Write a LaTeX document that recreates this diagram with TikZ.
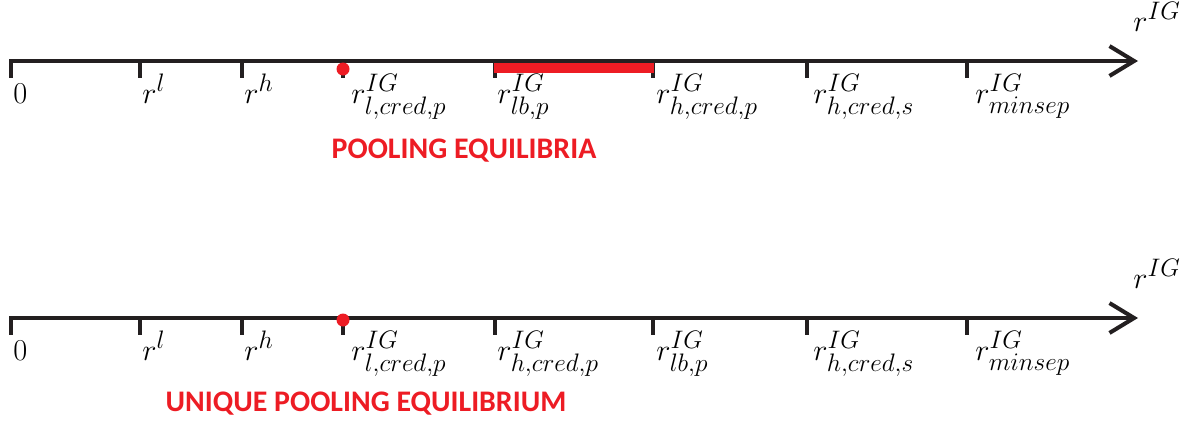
\documentclass[tikz,border=0pt]{standalone}
\usepackage{amsmath}
\usepackage{fontspec}
\setsansfont{Carlito}
\usetikzlibrary{arrows.meta, positioning}
\definecolor{eqred}{RGB}{237,28,36}
\definecolor{axisgray}{RGB}{35,31,32}

\begin{document}
\begin{tikzpicture}[x=0.02cm, y=-0.02cm,
    axis/.style={line width=2.3pt, axisgray, -{Straight Barb[length=14pt,width=17pt]}},
    tickmark/.style={line width=2.3pt, axisgray},
    lbl/.style={anchor=base west, inner sep=0pt, font=\fontsize{19}{22}\selectfont},
    note/.style={inner sep=0pt, text=eqred, font=\sffamily\bfseries\fontsize{17}{20}\selectfont}]
\useasboundingbox (0,0) rectangle (1180,420);

            % Top line: range of pooling equilibria

            \coordinate (ta) at (9,61);
            \coordinate (tb) at (1138,61);
            \draw[axis] (ta) -- (tb);
            \node[lbl] (tvar) at (1133,31) {$r^{IG}$};
            \foreach \x/\lx/\txt [count=\i] in {11/13/{$0$}, 140/142/{$r^{l}$}, 242/244/{$r^{h}$},
                343/351/{$r^{IG}_{l,cred,p}$}, 495/497/{$r^{IG}_{lb,p}$}, 653/656/{$r^{IG}_{h,cred,p}$},
                807/813/{$r^{IG}_{h,cred,s}$}, 967/975/{$r^{IG}_{minsep}$}} {
              \draw[tickmark] (\x,61) -- (\x,78);
              \node[lbl] (top\i) at (\lx,103) {\txt};
            }
            \coordinate (ra) at (494,68);
            \coordinate (rb) at (654,68);
            \draw[line width=5.7pt, eqred] (ra) -- (rb);
            \fill[eqred] (343,69) circle[radius=3.7pt];
            \node[note] (tnote) at (464,151) {POOLING EQUILIBRIA};

            % Bottom line: unique pooling equilibrium

            \coordinate (ba) at (9,318);
            \coordinate (bb) at (1138,318);
            \draw[axis] (ba) -- (bb);
            \node[lbl] (bvar) at (1133,288) {$r^{IG}$};
            \foreach \x/\lx/\txt [count=\i] in {11/13/{$0$}, 140/142/{$r^{l}$}, 242/244/{$r^{h}$},
                343/351/{$r^{IG}_{l,cred,p}$}, 495/497/{$r^{IG}_{h,cred,p}$}, 653/656/{$r^{IG}_{lb,p}$},
                807/813/{$r^{IG}_{h,cred,s}$}, 967/975/{$r^{IG}_{minsep}$}} {
              \draw[tickmark] (\x,318) -- (\x,335);
              \node[lbl] (bot\i) at (\lx,360) {\txt};
            }
            \fill[eqred] (343,320) circle[radius=3.7pt];
            \node[note] (bnote) at (366,404) {UNIQUE POOLING EQUILIBRIUM};

        \end{tikzpicture}
\end{document}
